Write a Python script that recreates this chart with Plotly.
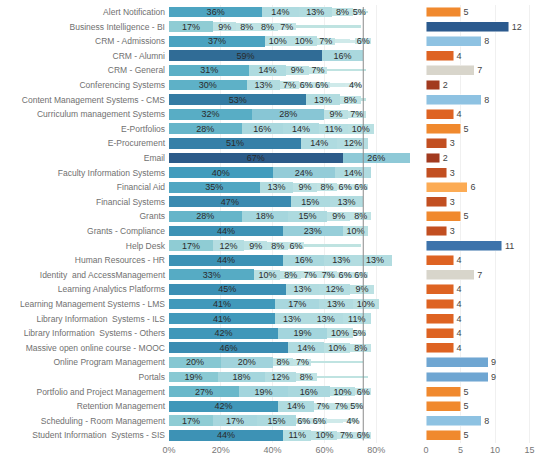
import plotly.graph_objects as go

categories = [
    "Alert Notification", "Business Intelligence - BI", "CRM - Admissions", "CRM - Alumni",
    "CRM - General", "Conferencing Systems", "Content Management Systems - CMS",
    "Curriculum management Systems", "E-Portfolios", "E-Procurement", "Email",
    "Faculty Information Systems", "Financial Aid", "Financial Systems", "Grants",
    "Grants - Compliance", "Help Desk", "Human Resources - HR", "Identity  and AccessManagement",
    "Learning Analytics Platforms", "Learning Management Systems - LMS",
    "Library Information  Systems - ILS", "Library Information  Systems - Others",
    "Massive open online course - MOOC", "Online Program Management", "Portals",
    "Portfolio and Project Management", "Retention Management",
    "Scheduling - Room Management", "Student Information  Systems - SIS",
]

# stacked percentage segments, by rank (None = no segment)
s1 = [36, 17, 37, 59, 31, 30, 53, 32, 28, 51, 67, 40, 35, 47, 28, 44, 17, 44, 33, 45, 41, 41, 42, 46, 20, 19, 27, 42, 17, 44]
s2 = [14, 9, 10, 16, 14, 13, 13, 28, 16, 14, 26, 24, 13, 15, 18, 23, 12, 16, 10, 13, 17, 13, 19, 14, 20, 18, 19, 14, 17, 11]
s3 = [13, 8, 10, None, 9, 7, 8, 9, 14, 12, None, 14, 9, 13, 15, 10, 9, 13, 8, 12, 13, 13, 10, 10, 8, 12, 16, 7, 15, 10]
s4 = [8, 8, 7, None, 7, 6, None, 7, 11, None, None, None, 8, None, 9, None, 8, 13, 7, 9, 10, 11, 5, 8, 7, 8, 10, 7, 6, 7]
s5 = [5, 7, 3, None, None, 6, None, None, 10, None, None, None, 6, None, 8, None, 6, None, 7, None, None, None, None, None, None, None, 6, 5, 6, 6]
s6 = [None, None, 3, None, None, 3, None, None, None, None, None, None, 6, None, None, None, None, None, 6, None, None, None, None, None, None, None, None, None, 3, None]
s7 = [None, None, 2, None, None, 3, None, None, None, None, None, None, None, None, None, None, None, None, 6, None, None, None, None, None, None, None, None, None, 3, None]
s8 = [None, None, 6, None, None, 2, None, None, None, None, None, None, None, None, None, None, None, None, None, None, None, None, None, None, None, None, None, None, 2, None]
s9 = [None, None, None, None, None, 4, None, None, None, None, None, None, None, None, None, None, None, None, None, None, None, None, None, None, None, None, None, None, 4, None]
tail = [1, 25, 0, 0, 15, 0, 2, 0, 0, 0, 0, 0, 0, 0, 0, 0, 22, 0, 0, 0, 0, 0, 0, 0, 20, 20, 0, 0, 0, 0]

counts = [5, 12, 8, 4, 7, 2, 8, 4, 5, 3, 2, 3, 6, 3, 5, 3, 11, 4, 7, 4, 4, 4, 4, 4, 9, 9, 5, 5, 8, 5]

ref_line = 75
pct_ticks = [0, 20, 40, 60, 80]
cnt_ticks = [0, 5, 10, 15]

# ---------------- styling ----------------
W, H = 560, 458
FONT = "Liberation Sans, Arial, sans-serif"

blue_stops = [(0, "#cde9e8"), (10, "#a5d7da"), (20, "#86c7d2"), (30, "#5eb1c7"),
              (40, "#429cbd"), (50, "#3682aa"), (60, "#2f6a94"), (70, "#2b5584")]


def hex2rgb(h):
    h = h.lstrip("#")
    return tuple(int(h[i:i + 2], 16) for i in (0, 2, 4))


def interp(stops, v, lighten=0.0):
    v = max(stops[0][0], min(stops[-1][0], v))
    for (a, ca), (b, cb) in zip(stops[:-1], stops[1:]):
        if a <= v <= b:
            t = (v - a) / (b - a) if b > a else 0
            ra, rb = hex2rgb(ca), hex2rgb(cb)
            c = [ra[i] + (rb[i] - ra[i]) * t for i in range(3)]
            c = [x + (255 - x) * lighten for x in c]
            return "rgb(%d,%d,%d)" % tuple(round(x) for x in c)
    return stops[-1][1]


def seg_width(v):
    if v is None:
        return 0
    return min(0.74, 0.12 + 0.055 * v)


fig = go.Figure()

ranks = [s1, s2, s3, s4, s5, s6, s7, s8, s9]
for k, seg in enumerate(ranks):
    light = 0.0 if k == 0 else 0.22
    fig.add_trace(go.Bar(
        y=categories, x=seg, orientation="h",
        marker=dict(color=[interp(blue_stops, v or 0, light) for v in seg], line=dict(width=0)),
        width=[seg_width(v) for v in seg],
        text=[("%d%%" % v) if (v is not None and v >= 4) else "" for v in seg],
        textposition="inside", insidetextanchor="middle",
        textfont=dict(size=9, color="#2a2a2a", family=FONT),
        xaxis="x", yaxis="y", showlegend=False, hoverinfo="x+y",
    ))

fig.add_trace(go.Bar(
    y=categories, x=tail, orientation="h",
    marker=dict(color="#bfe3e1", line=dict(width=0)),
    width=0.13, xaxis="x", yaxis="y", showlegend=False, hoverinfo="skip",
))

div_stops = [(2, "#a23a1f"), (3, "#c24f21"), (4, "#de6322"), (5, "#f0892e"), (6, "#fcab54"),
             (7, "#d8d5cb"), (8, "#8ec2e2"), (9, "#6fa6d2"), (11, "#3d73ab"), (12, "#2b5a8e")]

fig.add_trace(go.Bar(
    y=categories, x=counts, orientation="h",
    marker=dict(color=[interp(div_stops, v) for v in counts],
                line=dict(width=0.8, color="rgba(255,255,255,0.6)")),
    width=0.68, text=[str(v) for v in counts], textposition="outside",
    textfont=dict(size=9, color="#444", family=FONT),
    xaxis="x2", yaxis="y", showlegend=False, cliponaxis=False,
))

y0 = (H - 442.7) / H
y1 = (H - 4.7) / H

fig.add_shape(type="line", xref="x", yref="paper", x0=ref_line, x1=ref_line,
              y0=y0 + 0.005, y1=y1 - 0.005, line=dict(color="#8a8a8a", width=1))

fig.update_layout(
    width=W, height=H,
    margin=dict(l=0, r=0, t=0, b=0),
    paper_bgcolor="white", plot_bgcolor="white",
    barmode="stack", bargap=0.2,
    font=dict(family=FONT, size=9, color="#666"),
    uniformtext=dict(minsize=9, mode="show"),
    xaxis=dict(domain=[169 / W, 410 / W], range=[0, (410 - 169) / 2.59],
               tickvals=pct_ticks, ticktext=["%d%%" % t for t in pct_ticks],
               showgrid=True, gridcolor="#f0f0f0", zeroline=False, showline=False,
               tickfont=dict(size=9, color="#777"), automargin=False, fixedrange=True),
    xaxis2=dict(domain=[426 / W, 1.0], range=[0, (W - 426) / 6.9], anchor="y",
                tickvals=cnt_ticks, showgrid=True, gridcolor="#f0f0f0", zeroline=False,
                showline=False, tickfont=dict(size=9, color="#777"), automargin=False),
    yaxis=dict(domain=[y0, y1], autorange="reversed", categoryorder="array",
               categoryarray=categories, showgrid=False, showline=False, ticks="",
               tickfont=dict(size=8.5, color="#707070"), automargin=False, ticklabelstandoff=3),
)

fig.write_html("out.html", config={"displayModeBar": False})

# remove the default page margin so the figure sits at the window's top-left corner
with open("out.html", "r", encoding="utf-8") as f:
    html = f.read()
html = html.replace("<head>", "<head><style>html,body{margin:0;padding:0;overflow:hidden;}</style>", 1)
with open("out.html", "w", encoding="utf-8") as f:
    f.write(html)
